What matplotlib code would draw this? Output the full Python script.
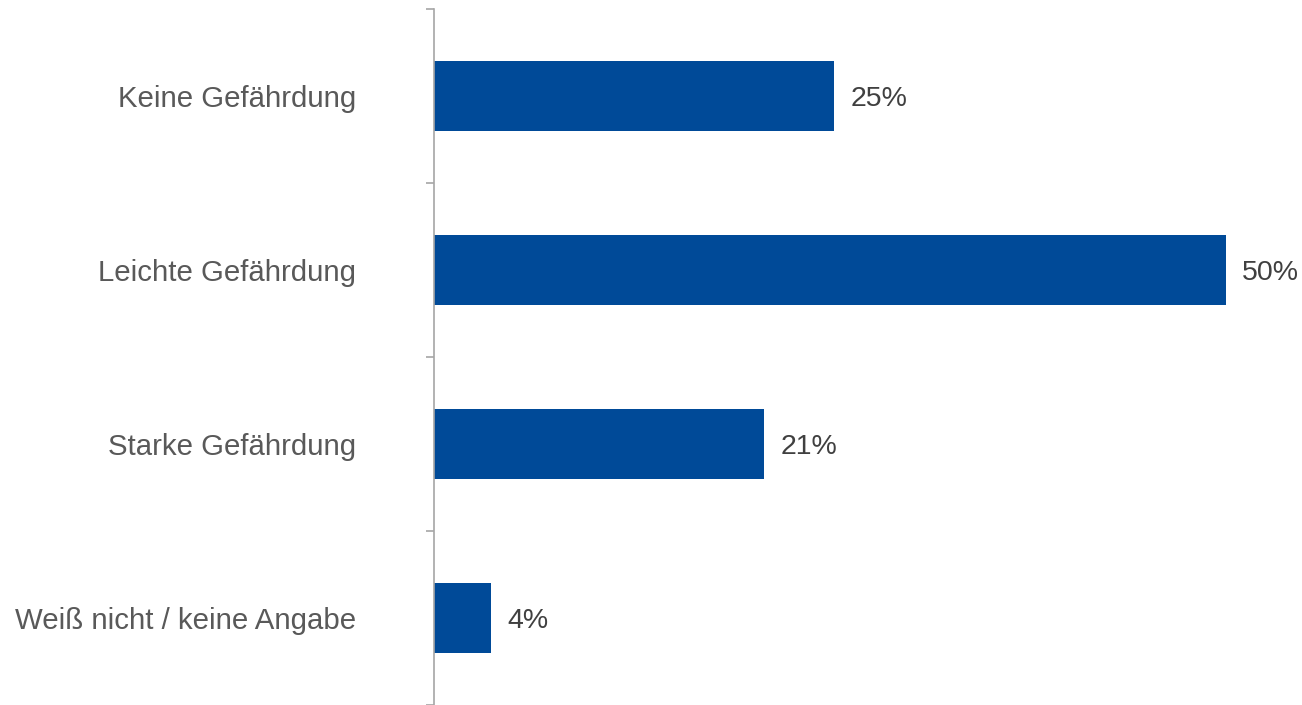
import matplotlib
matplotlib.use("Agg")
import matplotlib.pyplot as plt
import numpy as np

categories = ["Keine Gefährdung", "Leichte Gefährdung", "Starke Gefährdung", "Weiß nicht / keine Angabe"]
values = [25.3, 50.1, 20.9, 3.6]
value_labels = ["25%", "50%", "21%", "4%"]

plt.rcParams['font.family'] = ['Liberation Sans', 'DejaVu Sans']

W, H = 1302, 705
fig = plt.figure(figsize=(W / 100, H / 100), dpi=100)
left = 434 / W
top = (H - 9) / H
ax = fig.add_axes([left, 0, 1 - left, top])

y = np.arange(len(categories))
ax.barh(y, values, height=0.4, color="#004A98")
ax.set_ylim(len(categories) - 0.5, -0.5)
ax.set_xlim(0, (W - 434) / 15.8)

for yi, v, lab in zip(y, values, value_labels):
    ax.text(v + 1.05, yi + 0.02, lab, va="center", ha="left", fontsize=20.5, color="#404040")

ax.set_yticks(y)
ax.set_yticklabels(categories, fontsize=21.2, color="#595959")
ax.tick_params(axis="y", which="major", length=0, pad=56)
ax.set_yticks(np.arange(-0.5, len(categories), 1.0), minor=True)
ax.tick_params(axis="y", which="minor", length=6, width=1.2, color="#A6A6A6")
ax.set_xticks([])

for s in ["top", "right", "bottom"]:
    ax.spines[s].set_visible(False)
ax.spines["left"].set_color("#A6A6A6")
ax.spines["left"].set_linewidth(1.2)

fig.savefig("out.png", dpi=100)
